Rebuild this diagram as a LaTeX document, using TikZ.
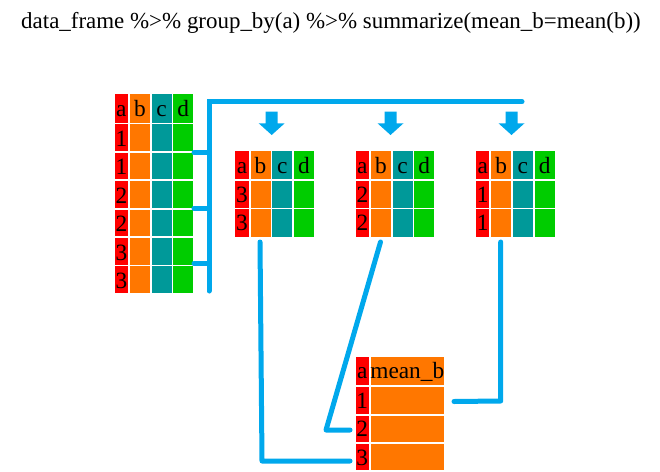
\documentclass[tikz,border=0pt]{standalone}
\usepackage{fontspec}
\setmainfont{Liberation Serif}
\definecolor{cRed}{RGB}{255,0,0}
\definecolor{cOrange}{RGB}{255,119,0}
\definecolor{cTeal}{RGB}{0,153,153}
\definecolor{cGreen}{RGB}{0,204,0}
\definecolor{cBlue}{RGB}{0,168,236}
\tikzset{
  cellnode/.style={rectangle, inner sep=0pt, outer sep=0pt, draw=none},
  celltext/.style={inner sep=0pt, anchor=base, font=\fontsize{17.5}{18}\selectfont},
  flow/.style={draw=cBlue, line width=3.75pt, line cap=round, line join=round},
  bracket/.style={draw=cBlue, line width=3.75pt, line cap=round, line join=miter},
  downarrow/.style={fill=cBlue, draw=none},
}
% #1 name, #2 colour, #3 x left, #4 x right, #5 y top, #6 y bottom (pixels)
\newcommand\cellbox[6]{%
  \node[cellnode, fill=#2,
        minimum width={((#4)-(#3))*0.75pt},
        minimum height={((#6)-(#5))*0.75pt}]
        (#1) at ({((#3)+(#4))/2},{((#5)+(#6))/2}) {};}
% #1 name, #2 centre x
\newcommand\grouparrow[2]{%
  \fill[downarrow] ({#2-6},111.7) -- ({#2+6},111.7) -- ({#2+6},123.3) -- ({#2+13},123.3)
    -- (#2,135) -- ({#2-13},123.3) -- ({#2-6},123.3) -- cycle;
  \coordinate (#1) at (#2,135);}
\begin{document}
\begin{tikzpicture}[x=0.75pt,y=-0.75pt]
\useasboundingbox (0,0) rectangle (660,471);

% title
\node[inner sep=0pt, anchor=base, font=\fontsize{17.2}{20}\selectfont] (title) at (331,28.3)
  {data\_frame \%>\% group\_by(a) \%>\% summarize(mean\_b=mean(b))};

% ---------- left table ----------
\foreach \col/\xa/\xb/\clr in {a/0/13.4/cRed, b/15.2/35.2/cOrange, c/36.9/56.9/cTeal, d/58.6/78.6/cGreen}{
  \cellbox{L-0-\col}{\clr}{114.7+\xa}{114.7+\xb}{94}{122.7}
  \node[celltext] (L-0-\col-t) at ({114.7+(\xa+\xb)/2},116.3) {\col};
  \foreach \r in {1,...,6}{
    \cellbox{L-\r-\col}{\clr}{114.7+\xa}{114.7+\xb}{124.3+28.4*(\r-1)}{151+28.4*(\r-1)}
  }
}
\foreach \r/\dg in {1/1,2/1,3/2,4/2,5/3,6/3}{
  \node[celltext] (L-\r-t) at ({114.7+6.7},{146.5+28.4*(\r-1)}) {\dg};
}

% ---------- group tables ----------
\foreach \t/\left/\dg in {1/235.3/3, 2/355.7/2, 3/476/1}{
  \foreach \col/\xa/\xb/\clr in {a/0/13.4/cRed, b/15.2/35.2/cOrange, c/36.9/56.9/cTeal, d/58.6/78.6/cGreen}{
    \cellbox{T\t-0-\col}{\clr}{\left+\xa}{\left+\xb}{151.3}{179}
    \node[celltext] (T\t-0-\col-t) at ({\left+(\xa+\xb)/2},173) {\col};
    \foreach \r in {1,2}{
      \cellbox{T\t-\r-\col}{\clr}{\left+\xa}{\left+\xb}{180.7+28.6*(\r-1)}{208+28.6*(\r-1)}
    }
  }
  \foreach \r in {1,2}{
    \node[celltext] (T\t-\r-t) at ({\left+6.7},{202+28.6*(\r-1)}) {\dg};
  }
}

% ---------- result table ----------
\cellbox{R-0-a}{cRed}{356}{368.7}{357.3}{385}
\cellbox{R-0-m}{cOrange}{370.7}{444}{357.3}{385}
\node[celltext] (R-0-a-t) at (362.3,378.5) {a};
\node[celltext] (R-0-m-t) at (407.3,378.5) {mean\_b};
\foreach \r in {1,2,3}{
  \cellbox{R-\r-a}{cRed}{356}{368.7}{387.3+28.3*(\r-1)}{413.7+28.3*(\r-1)}
  \cellbox{R-\r-m}{cOrange}{370.7}{444}{387.3+28.3*(\r-1)}{413.7+28.3*(\r-1)}
  \node[celltext] (R-\r-t) at ({362.3},{408.5+28.3*(\r-1)}) {\r};
}

% ---------- bracket from left table ----------
\coordinate (brBot) at (209,291);
\coordinate (brTop) at (209,101.7);
\coordinate (brEnd) at (522,101.7);
\draw[bracket] (brBot) -- (brTop) -- (brEnd);
\coordinate (tk1) at (194,152.7);
\coordinate (tk2) at (194,208.3);
\coordinate (tk3) at (194,263.5);
\foreach \k in {1,2,3}{
  \draw[flow] (tk\k) -- (brTop |- tk\k);
}

% ---------- arrows to groups ----------
\grouparrow{A1}{271.7}
\grouparrow{A2}{390.5}
\grouparrow{A3}{511.5}

% ---------- connectors to result ----------
\coordinate (c1s) at (260,242);
\coordinate (c1m) at (262,461);
\coordinate (c1e) at (350,461);
\draw[flow] (c1s) -- (c1m) -- (c1e);
\coordinate (c2s) at (380.5,242);
\coordinate (c2m) at (326,430);
\coordinate (c2e) at (350,430);
\draw[flow] (c2s) -- (c2m) -- (c2e);
\coordinate (c3s) at (500.7,242);
\coordinate (c3m) at (500.7,401);
\coordinate (c3e) at (454,401.5);
\draw[flow] (c3s) -- (c3m) -- (c3e);
\end{tikzpicture}
\end{document}
